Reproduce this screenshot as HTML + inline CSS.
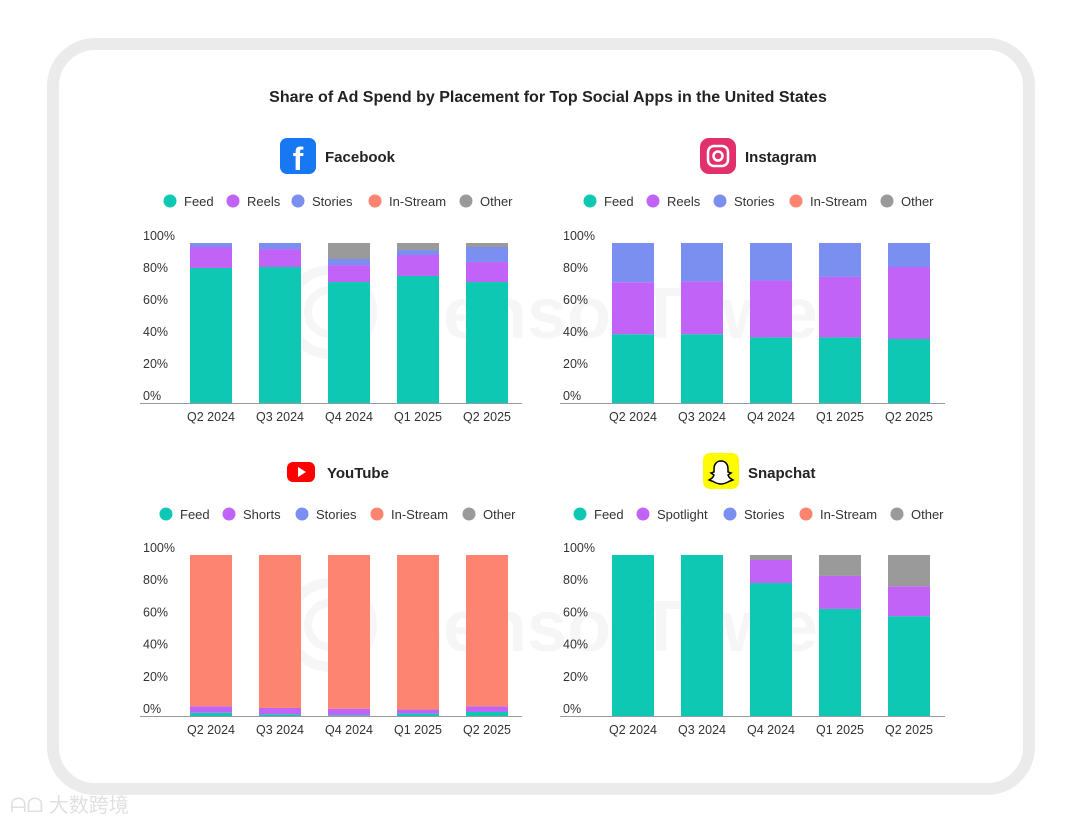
<!DOCTYPE html>
<html><head><meta charset="utf-8">
<style>
html,body{margin:0;padding:0;background:#fff;width:1080px;height:825px;overflow:hidden}
svg{display:block;font-family:"Liberation Sans","Noto Sans CJK SC",sans-serif}
</style></head>
<body>
<svg id="s" width="1080" height="825" viewBox="0 0 1080 825">
<rect x="53" y="44" width="976" height="745" rx="42" fill="#fff" stroke="#ebebeb" stroke-width="12"/>
<text x="548" y="102" text-anchor="middle" font-size="16" font-weight="bold" fill="#222">Share of Ad Spend by Placement for Top Social Apps in the United States</text>
<g opacity="0.03">
<circle cx="330" cy="312" r="42" fill="none" stroke="#000" stroke-width="10"/>
<circle cx="330" cy="312" r="22" fill="none" stroke="#000" stroke-width="8"/>
<text x="395" y="338" font-size="72" font-weight="bold" fill="#000">SensorTower</text>
<circle cx="330" cy="625" r="42" fill="none" stroke="#000" stroke-width="10"/>
<circle cx="330" cy="625" r="22" fill="none" stroke="#000" stroke-width="8"/>
<text x="395" y="651" font-size="72" font-weight="bold" fill="#000">SensorTower</text>
</g>
<rect x="280" y="138" width="36" height="36" rx="7" fill="#1877f2"/>
<text x="298" y="170" text-anchor="middle" font-size="32" font-weight="bold" fill="#fff">f</text>
<text x="325" y="162" font-size="15" font-weight="bold" fill="#222">Facebook</text>
<rect x="700" y="138" width="36" height="36" rx="9" fill="#e1306c"/>
<rect x="708" y="146" width="20" height="20" rx="6" fill="none" stroke="#fff" stroke-width="2.5"/>
<circle cx="718" cy="156" r="4.5" fill="none" stroke="#fff" stroke-width="2.5"/>
<text x="745" y="162" font-size="15" font-weight="bold" fill="#222">Instagram</text>
<rect x="287" y="462" width="28" height="20" rx="6" fill="#ff0000"/>
<polygon points="298,467 298,477 306,472" fill="#fff"/>
<text x="327" y="478" font-size="15" font-weight="bold" fill="#222">YouTube</text>
<rect x="703" y="453" width="36" height="36" rx="7" fill="#fffc00"/>
<path d="M721 461c-5 0-7 4-7 8v3l-3 1 3 2c-1 3-3 4-5 5 2 1 4 1 5 2 2 1 4 2 7 2s5-1 7-2c1-1 3-1 5-2-2-1-4-2-5-5l3-2-3-1v-3c0-4-2-8-7-8z" fill="#fff" stroke="#000" stroke-width="1.5"/>
<text x="748" y="478" font-size="15" font-weight="bold" fill="#222">Snapchat</text>
<text x="10" y="812" font-size="20" fill="#e0e0e0">ᗩᗝ 大数跨境</text>
<g id="charts"></g>
</svg>
<script>
const categories = ["Q2 2024","Q3 2024","Q4 2024","Q1 2025","Q2 2025"];
const yTicks = [0,20,40,60,80,100];
const fbFeed = [84.4,85,75.6,79.4,75.6];
const fbReels = [13.1,11.2,10.6,13.1,12.5];
const fbStories = [2.5,3.8,3.8,3.1,9.4];
const fbInStream = [0,0,0,0,0];
const fbOther = [0,0,10,4.4,2.5];
const igFeed = [43,43,41,41,40];
const igReels = [32.5,33,35.6,37.8,45];
const igStories = [24.5,24,23.4,21.2,15];
const igInStream = [0,0,0,0,0];
const igOther = [0,0,0,0,0];
const ytFeed = [2,1,0.5,1.5,2.5];
const ytShorts = [4,4,4,2.5,3.5];
const ytStories = [0,0,0,0,0];
const ytInStream = [94,95,95.5,96,94];
const ytOther = [0,0,0,0,0];
const scFeed = [100,100,82.6,66.5,62];
const scSpotlight = [0,0,14.3,20.5,18.6];
const scStories = [0,0,0,0,0];
const scInStream = [0,0,0,0,0];
const scOther = [0,0,3.1,13,19.4];

const colors = ["#0fc8b4","#c263f7","#7b8ff0","#fc8470","#9a9a9a"];
const NS = "http://www.w3.org/2000/svg";
const root = document.getElementById("charts");

function mk(tag, attrs, parent){
  const e = document.createElementNS(NS, tag);
  for (const k in attrs) e.setAttribute(k, attrs[k]);
  (parent||root).appendChild(e);
  return e;
}

const panels = [
  {key:"facebook", x0:140, x1:522, firstBar:190, base:403, top:243, legY:201,
   names:["Feed","Reels","Stories","In-Stream","Other"], legX:[170,233,298,375,466],
   series:[fbFeed,fbReels,fbStories,fbInStream,fbOther]},
  {key:"instagram", x0:560, x1:945, firstBar:612, base:403, top:243, legY:201,
   names:["Feed","Reels","Stories","In-Stream","Other"], legX:[590,653,720,796,887],
   series:[igFeed,igReels,igStories,igInStream,igOther]},
  {key:"youtube", x0:140, x1:522, firstBar:190, base:716, top:555, legY:514,
   names:["Feed","Shorts","Stories","In-Stream","Other"], legX:[166,229,302,377,469],
   series:[ytFeed,ytShorts,ytStories,ytInStream,ytOther]},
  {key:"snapchat", x0:560, x1:945, firstBar:612, base:716, top:555, legY:514,
   names:["Feed","Spotlight","Stories","In-Stream","Other"], legX:[580,643,730,806,897],
   series:[scFeed,scSpotlight,scStories,scInStream,scOther]}
];

panels.forEach(p=>{
  const g = mk("g",{});
  
  
  const y = v => p.base - (p.base - p.top) * v / 100;
  const bx = i => p.firstBar + i*69;
  const bw = 42;
  p.names.forEach((n,k)=>{
    const lg = mk("g",{},g);
    
    
    mk("circle",{cx:p.legX[k],cy:p.legY,r:6.5,fill:colors[k]},lg);
    const t = mk("text",{x:p.legX[k]+14,y:p.legY+5,"font-size":13,fill:"#333"},lg);
    t.textContent = n;
  });
  yTicks.forEach(v=>{
    const t = mk("text",{x:p.x0+3,y:y(v)-3,"font-size":12.5,fill:"#333"},g);
    
    
    t.textContent = v+"%";
  });
  categories.forEach((c,i)=>{
    let acc = 0;
    p.series.forEach((s,k)=>{
      const v = s[i];
      if (v>0){
        const r = mk("rect",{x:bx(i),y:y(acc+v),width:bw,height:y(acc)-y(acc+v),fill:colors[k]},g);
        
        
      }
      acc += v;
    });
    const t = mk("text",{x:bx(i)+bw/2,y:p.base+18,"text-anchor":"middle","font-size":12.5,fill:"#333"},g);
    
    
    t.textContent = c;
  });
  const ax = mk("line",{x1:p.x0,x2:p.x1,y1:p.base+0.5,y2:p.base+0.5,stroke:"#999","stroke-width":1},g);
  
  
});
</script>
</body></html>
